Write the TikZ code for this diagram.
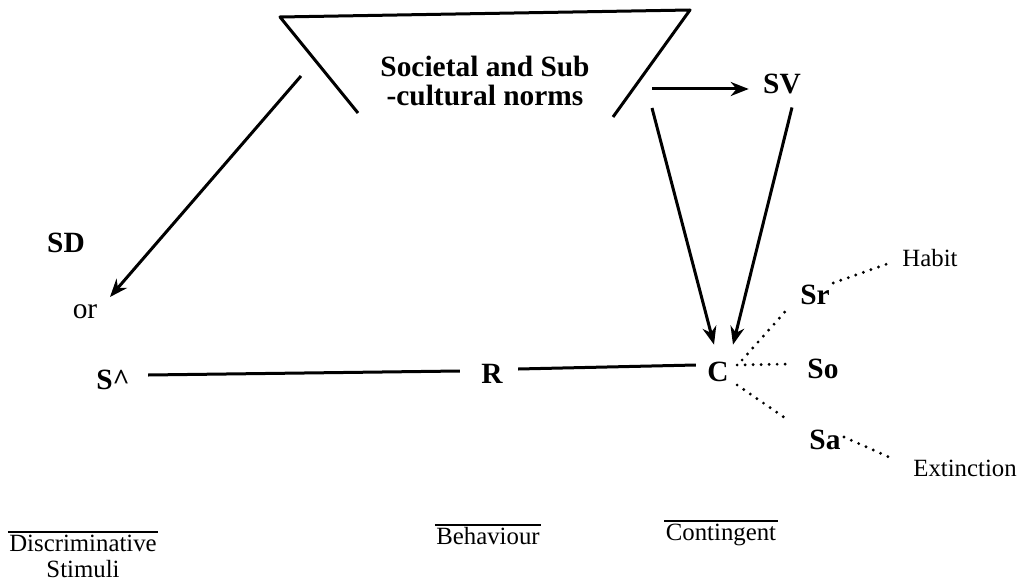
\documentclass[tikz,border=0pt]{standalone}
\usepackage{fontspec}
\setmainfont{Liberation Serif}
\usetikzlibrary{arrows.meta,positioning}
\tikzset{
  every picture/.style={line width=1.5pt},
  bigtxt/.style={font=\fontsize{14.7}{14.5}\selectfont\bfseries, inner sep=0pt},
  midtxt/.style={font=\fontsize{14.7}{14}\selectfont, inner sep=0pt},
  smalltxt/.style={font=\fontsize{12.4}{14}\selectfont, inner sep=0pt},
  mainline/.style={line width=1.5pt},
  arr/.style={mainline, -{Stealth[length=9pt,width=7pt]}},
  dotline/.style={line width=1.6pt, line cap=round, dash pattern=on 0pt off 4pt},
  overbar/.style={line width=1pt},
}

\begin{document}
\begin{tikzpicture}[x=0.5pt,y=-0.5pt]
\useasboundingbox (0,0) rectangle (1022,583);
% norms box, open at the bottom
\draw[mainline, line join=round] (358,113) -- (280,17) -- (690,10) -- (613,117);
\node[bigtxt, align=center] (norms) at (485,81) {Societal and Sub\\-cultural norms};
\coordinate (normsL) at (301,76);
\coordinate (normsR) at (652,89);
\coordinate (normsD) at (652,108);

% the chain S - R - C
\node[bigtxt] (sv) at (782,84) {SV};
\node[bigtxt] (sd) at (66,243) {SD};
\node[midtxt] (or) at (85,312) {or};
\node[bigtxt] (sdelta) at (113,380) {S\textasciicircum};
\node[bigtxt] (r) at (492,374) {R};
\node[bigtxt] (c) at (718,372) {C};
\node[bigtxt] (sr) at (815,295) {Sr};
\node[bigtxt] (so) at (823,369) {So};
\node[bigtxt] (sa) at (825,440) {Sa};
\node[smalltxt] (habit) at (930,258) {Habit};
\node[smalltxt] (extinct) at (965,468) {Extinction};

\draw[arr] (normsL) -- ([shift={(25,-15)}]or.center);
\draw[arr] (normsR) -- ([shift={(-13,5)}]sv.west);
\draw[arr] (normsD) -- ([shift={(-4,-16)}]c.north);
\draw[arr] ([shift={(10,12)}]sv.south) -- ([shift={(15,-16)}]c.north);

\draw[mainline] ([shift={(17,-5)}]sdelta.east) -- ([shift={(-20,-3)}]r.west);
\draw[mainline] ([shift={(14,-5)}]r.east) -- ([shift={(-10,-7)}]c.west);

% consequences
\draw[dotline] ([shift={(12,-12)}]c.east) -- ([shift={(-9,0)}]sr.south west);
\draw[dotline] ([shift={(7,-7)}]c.east) -- ([shift={(-15,-5)}]so.west);
\draw[dotline] ([shift={(7,13)}]c.east) -- ([shift={(-19,-8)}]sa.north west);
\draw[dotline] ([shift={(2,-12)}]sr.east) -- ([shift={(-14,6)}]habit.west);
\draw[dotline] ([shift={(2,-3)}]sa.east) -- ([shift={(-23,-11)}]extinct.west);

% column headings
\node[smalltxt] (discr) at (83,543) {Discriminative};
\node[smalltxt, below=3pt of discr] (stim) {Stimuli};
\node[smalltxt] (behav) at (488,536) {Behaviour};
\node[smalltxt] (conting) at (721,535) {Contingent};
\foreach \n in {discr,behav,conting}
  \draw[overbar] ([yshift=0.6pt]\n.north west) -- ([yshift=0.6pt]\n.north east);
\end{tikzpicture}
\end{document}
